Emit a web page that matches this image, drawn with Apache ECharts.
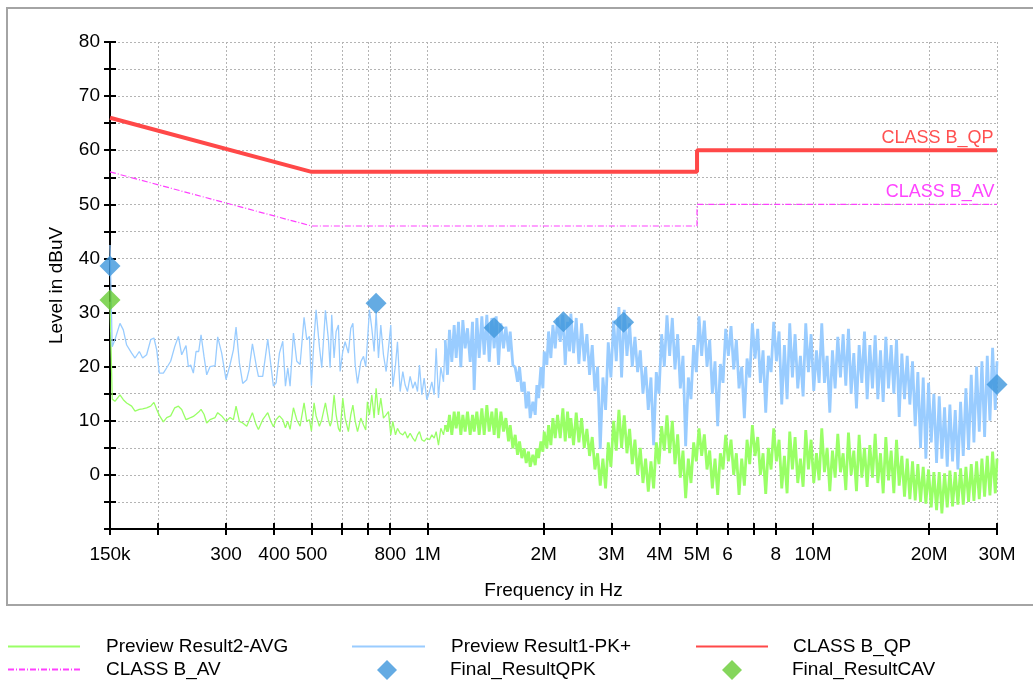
<!DOCTYPE html>
<html><head><meta charset="utf-8">
<script src="https://cdn.jsdelivr.net/npm/echarts@6/dist/echarts.min.js"></script>
<style>html,body{margin:0;padding:0;background:#fff}#c{width:1033px;height:684px}</style>
</head><body><div id="c"></div>
<script>
// ---------- DATA ----------
// 150 kHz - 560 kHz (frequency in kHz)
const freqLowKHz = [150, 152, 154.5, 159.2, 162.4, 165.7, 170.7, 174.2, 178.7, 182.3,
  186.7, 191.3, 195, 198.3, 201.4, 206.3, 210.5, 215.5, 220.8, 225.7,
  230.2, 236.2, 239.5, 242.9, 246.8, 250.8, 254.8, 258.4, 263, 267.3,
  272.6, 281, 285.4, 292.3, 300, 307.3, 313.5, 318.5, 324.9, 331.4,
  339.5, 344.2, 351.2, 358.9, 364, 373.5, 379.6, 384.9, 391.9, 398.1,
  404.5, 412.7, 421, 427.8, 433.8, 439.8, 448.7, 457.7, 466.9, 478.1,
  485.9, 493.7, 499.6, 507.6, 513.7, 524, 531.4, 543.2, 553, 558.6];
const pkLow = [42.5, 23.7, 25, 28, 26.8, 24, 22.5, 21.6, 22.8, 21.6,
  22.2, 25, 25.3, 23.1, 18.8, 18.8, 19.8, 21, 23.7, 25.6,
  22.2, 23.9, 20, 20.3, 18.8, 22.8, 22.8, 25.9, 21.9, 18.5,
  20, 20.2, 25.5, 22.5, 17.6, 20.4, 23.1, 27.3, 20.7, 16.9,
  17.6, 19.4, 24.2, 20.4, 18.2, 18.2, 21.9, 25.1, 20.4, 16.4,
  17, 22.5, 24.7, 16.4, 19.8, 16.4, 26.2, 21, 20.4, 29.1,
  25, 25.6, 16.5, 25.3, 30.5, 23.7, 19.8, 30.4, 25, 19.8];
const avgLow = [32, 14, 13.6, 14.8, 13.9, 13.3, 12.7, 11.8, 12.1, 12.2,
  12.4, 12.7, 13.4, 12.1, 11, 9.8, 10.6, 10.9, 12.4, 12.7,
  12.1, 10.2, 10.4, 10.6, 10.8, 11.2, 11.6, 12.1, 11.2, 9.6,
  10.2, 10.6, 11.5, 10.9, 9.9, 10.6, 10.2, 12.7, 9.9, 9.6,
  9, 10, 11.5, 9.3, 8.4, 10.2, 10.9, 11.5, 9.9, 8.9,
  10.2, 10.9, 10.2, 8.7, 9.9, 8.4, 12.4, 10.2, 9, 13.3,
  9.9, 10.2, 8.1, 13.3, 10.9, 9, 10.2, 13.3, 10.2, 9];

// 0.56 MHz - 2.34 MHz (frequency in MHz)
const freqMidMHz = [0.564, 0.572, 0.579, 0.587, 0.593, 0.6025, 0.611, 0.623, 0.632, 0.640,
  0.649, 0.658, 0.671, 0.682, 0.691, 0.698, 0.7066, 0.7165, 0.7266, 0.7353,
  0.7457, 0.7561, 0.7682, 0.7806, 0.7916, 0.8026, 0.8124, 0.8254, 0.8353, 0.8487,
  0.8624, 0.8745, 0.8868, 0.901, 0.9155, 0.9284, 0.9414, 0.9527, 0.9661, 0.9796,
  0.9954, 1.0113, 1.0256, 1.040, 1.0524, 1.0672, 1.0822, 1.0996, 1.1106, 1.1262,
  1.1397, 1.1557, 1.172, 1.1861, 1.2027, 1.2197, 1.2342, 1.2516, 1.2691, 1.2895,
  1.3077, 1.3207, 1.342, 1.3608, 1.3828, 1.4021, 1.4246, 1.4447, 1.4678, 1.4884,
  1.5063, 1.5276, 1.549, 1.5737, 1.596, 1.6216, 1.6378, 1.664, 1.6875, 1.7112,
  1.7318, 1.756, 1.7807, 1.8022, 1.8274, 1.8458, 1.8753, 1.9018, 1.9208, 1.940,
  1.9673, 1.991, 2.007, 2.039, 2.0596, 2.0884, 2.1136, 2.1432, 2.1732, 2.2082,
  2.2436, 2.2752, 2.3071, 2.335];
const pkMid = [29.6, 21.6, 26.5, 27.7, 19.1, 22.8, 24.6, 22.5, 27.1, 28,
  20.3, 16.9, 20.9, 21.9, 20, 24.6, 30.5, 27.1, 22.8, 30.2,
  21.6, 27.7, 22.2, 19.1, 23.4, 27.7, 16.3, 20.3, 24.6, 15.4,
  19.1, 16.6, 15.4, 18.2, 16, 17.2, 15.4, 20.3, 14.8, 17.9,
  13.9, 15.4, 17.2, 14.8, 23.4, 14.2, 19.9, 17.2, 24.9, 18.5,
  26.8, 20.9, 27.7, 21.6, 28.3, 19.9, 28.6, 23.4, 27.1, 20.9,
  28.3, 15.7, 29, 21.6, 29.3, 22.2, 29.6, 20.9, 29, 23.4,
  29.3, 20.3, 28, 23.4, 27.4, 22.8, 26.5, 20.3, 19.9, 17.2,
  19.9, 15.4, 17.2, 12.3, 15.4, 10.5, 13.5, 11.1, 16.6, 14.2,
  19.9, 16, 22.8, 20.3, 26.5, 21.6, 27.7, 23.4, 29, 24.6,
  29.6, 20.3, 28.3, 22.8];
const avgMid = [9.9, 14.8, 11.1, 8.6, 8, 14.2, 10.5, 8, 11.1, 12.9,
  9.9, 8, 10.5, 9.2, 8.3, 13.5, 11.1, 14.8, 10.5, 16,
  11.1, 14.2, 10.5, 11.1, 11.7, 7.4, 9.9, 7.4, 8.6, 7.7,
  7.4, 8, 6.8, 7.7, 6.8, 6.2, 7.4, 8, 6.5, 6.2,
  6.8, 6.5, 7.4, 6.8, 8, 5.5, 8.6, 7.4, 9.2, 8,
  11.1, 7.4, 11.7, 8.6, 11.7, 7.4, 11.1, 8, 11.7, 7.4,
  11.1, 8, 11.7, 7.4, 12.3, 7.4, 12.9, 8, 11.7, 7.4,
  12.3, 6.8, 11.7, 8, 10.5, 6.2, 9.2, 4.9, 7.4, 3.7,
  6.2, 3.1, 4.9, 2.2, 4.3, 1.5, 3.7, 1.8, 4.9, 3.1,
  6.2, 4.3, 8, 4.9, 9.2, 5.5, 10.5, 6.8, 11.1, 6.8,
  12.3, 6.2, 11.7, 6.8];

// 2.35 MHz - 30 MHz (frequency in MHz)
const freqHighMHz = [2.3534, 2.3913, 2.4297, 2.4688, 2.5084, 2.5488, 2.5897, 2.6314, 2.6737, 2.7166,
  2.7603, 2.8046, 2.8497, 2.8955, 2.9420, 2.9893, 3.0373, 3.0861, 3.1357, 3.1861,
  3.2373, 3.2894, 3.3422, 3.3959, 3.4505, 3.5060, 3.5623, 3.6196, 3.6777, 3.7368,
  3.7969, 3.8579, 3.9199, 3.9829, 4.0469, 4.1120, 4.1780, 4.2452, 4.3134, 4.3827,
  4.4532, 4.5247, 4.5975, 4.6713, 4.7464, 4.8227, 4.9002, 4.9790, 5.0590, 5.1403,
  5.2229, 5.3068, 5.3921, 5.4788, 5.5668, 5.6563, 5.7472, 5.8395, 5.9334, 6.0287,
  6.1256, 6.2240, 6.3241, 6.4257, 6.5290, 6.6339, 6.7405, 6.8488, 6.9589, 7.0707,
  7.1843, 7.2998, 7.4171, 7.5363, 7.6574, 7.7805, 7.9055, 8.0325, 8.1616, 8.2928,
  8.4261, 8.5615, 8.6991, 8.8389, 8.9810, 9.1253, 9.2720, 9.4210, 9.5724, 9.7262,
  9.8826, 10.041, 10.203, 10.367, 10.533, 10.703, 10.875, 11.050, 11.227, 11.408,
  11.591, 11.777, 11.966, 12.159, 12.354, 12.553, 12.754, 12.959, 13.168, 13.379,
  13.594, 13.813, 14.035, 14.260, 14.490, 14.722, 14.959, 15.200, 15.444, 15.692,
  15.944, 16.200, 16.461, 16.725, 16.994, 17.267, 17.545, 17.827, 18.113, 18.404,
  18.700, 19.001, 19.306, 19.616, 19.932, 20.252, 20.577, 20.908, 21.244, 21.586,
  21.932, 22.285, 22.643, 23.007, 23.377, 23.752, 24.134, 24.522, 24.916, 25.317,
  25.723, 26.137, 26.557, 26.984, 27.417, 27.858, 28.306, 28.761, 29.223, 29.693,
  30];
const pkHigh = [29.8, 22.5, 29, 20.5, 28, 21, 26, 18.5, 24, 15.5,
  20, 4.8, 18, 12, 24.5, 18, 28.5, 21, 31, 18,
  30.5, 22, 28, 20, 25.5, 19, 23, 15, 20, 12,
  18, 5.5, 19, 15, 26, 20, 29.5, 22, 29, 19.5,
  26, 16, 22, 5.3, 18, 14, 24, 19, 29.3, 22,
  28.5, 20, 25, 15, 21, 9, 20.5, 17, 27, 22,
  27.5, 19.5, 25, 16, 20, 10.5, 21.5, 18, 28, 21.5,
  27, 17, 23, 11.5, 22, 19, 28.3, 21, 26.5, 13,
  24, 14, 28, 18, 26, 16, 22, 14.5, 28, 19,
  26, 15.5, 23, 17, 28, 17, 22, 11.5, 23, 16,
  25.5, 18, 26, 16.5, 27, 15, 22.5, 12.3, 24, 17,
  26.5, 14, 24, 16, 25.8, 14, 23, 13.5, 25.5, 16,
  24, 15, 25, 10.7, 22.4, 14, 22, 13, 21, 9,
  19, 5, 18, 3, 17, 6, 15, 2.2, 14.5, 3,
  12.5, 1.5, 13, 2.5, 12, 1, 13.5, 3.5, 16, 4.6,
  18.5, 6, 20, 8, 21, 7, 22, 10, 23.5, 12,
  21];
const avgHigh = [10.5, 5.5, 11.5, 6, 10.5, 5, 8.5, 3.5, 7, 1,
  4, -2, 3, -2.5, 6, 1.5, 10, 4.5, 12, 5,
  11, 4, 8.5, 2, 6.5, 0, 5, -1.5, 3, -3.1,
  2.5, -2.5, 6, 2, 9, 4.5, 11, 4, 10, 2,
  7.5, -0.5, 4.5, -4.3, 3, -1.5, 6, 2.5, 8.6, 3.5,
  7.5, 1, 4.5, -2.5, 3, -3.7, 4, 1, 7.4, 2.5,
  6.5, 0, 4, -3.7, 3, -2, 6.5, 2, 9.2, 3.5,
  7, 0, 4, -3.5, 5, 1, 8.6, 2.5, 6.5, -2.5,
  3.5, -3.4, 8, 1, 7, -1.5, 3, -2.2, 8.3, 1,
  6.5, -1.5, 4, -1, 8.6, 0.5, 5, -3, 4.5, -0.5,
  7.6, 0.5, 4, -2.8, 7.8, 0, 4.5, -3, 7.4, -0.5,
  5, -2.2, 5.5, -0.5, 7.6, -1.5, 4, -3.4, 7, -1,
  4.5, -3.4, 6.5, -2, 3.5, -4, 3, -4.5, 2.5, -4.7,
  2, -5, 1.5, -5.3, 1, -6, 0.5, -6.5, 0.5, -7.1,
  0.3, -6, 0.8, -5.8, 0.5, -5.5, 1.2, -5.5, 1.5, -5,
  2, -4.8, 2.5, -4.5, 3, -4, 3.5, -3.8, 4.3, -3.4,
  3];

// Limit lines (MHz, dBuV)
const limitFreq = [0.15, 0.5, 5, 5, 30];
const qpLimit = [66, 56, 56, 60, 60];
const avLimit = [56, 46, 46, 50, 50];

// Final results (MHz, dBuV)
const qpkFreq = [0.15, 0.735, 1.488, 2.25, 3.225, 30];
const qpkLevel = [38.6, 31.7, 27.2, 28.3, 28.2, 16.7];
const cavFreq = [0.15];
const cavLevel = [32.3];

// Axis ticks (MHz)
const tickFreqs = [0.15, 0.2, 0.3, 0.4, 0.5, 0.6, 0.7, 0.8, 1, 2, 3, 4, 5, 6, 7, 8, 10, 20, 30];
const labelFreqs = [0.15, 0.3, 0.4, 0.5, 0.8, 1, 2, 3, 4, 5, 6, 8, 10, 20, 30];
const labelTexts = ['150k', '300', '400', '500', '800', '1M', '2M', '3M', '4M', '5M', '6', '8', '10M', '20M', '30M'];

// ---------- BUILD ----------
const L = f => Math.log10(f);
const SPLIT = 1.1; // MHz: trace is drawn as a dense band above this
const pkAll = [].concat(
  freqLowKHz.map((f, i) => [f / 1000, pkLow[i]]),
  freqMidMHz.map((f, i) => [f, pkMid[i]]),
  freqHighMHz.map((f, i) => [f, pkHigh[i]]));
const avgAll = [].concat(
  freqLowKHz.map((f, i) => [f / 1000, avgLow[i]]),
  freqMidMHz.map((f, i) => [f, avgMid[i]]),
  freqHighMHz.map((f, i) => [f, avgHigh[i]]));
function part(arr, lo) {
  const idx = arr.findIndex(p => p[0] > SPLIT);
  const sel = lo ? arr.slice(0, idx + 1) : arr.slice(idx);
  return sel.map(p => [L(p[0]), p[1]]);
}
const qpData = limitFreq.map((f, i) => [L(f), qpLimit[i]]);
const avData = limitFreq.map((f, i) => [L(f), avLimit[i]]);
const qpkData = qpkFreq.map((f, i) => [L(f), qpkLevel[i]]);
const cavData = cavFreq.map((f, i) => [L(f), cavLevel[i]]);

const FONT = '"Liberation Sans", Arial, sans-serif';
const FS = 19;
const xMin = L(0.15), xMax = L(30);
const gridLine = { show: true, lineStyle: { color: '#b4b4b4', width: 1, type: [2, 2] } };
const GREEN = '#99ff66', BLUE = '#99ccff';

const xBase = {
  type: 'value', min: xMin, max: xMax, gridIndex: 0, position: 'bottom',
  axisLine: { onZero: false, lineStyle: { color: '#000', width: 2 } },
  axisTick: { customValues: tickFreqs.map(L), length: 6, lineStyle: { color: '#000', width: 2 } },
};
const yBase = {
  type: 'value', min: -10, max: 80, interval: 5, position: 'left',
  axisLine: { onZero: false, lineStyle: { color: '#000', width: 2 } },
  axisTick: { length: 6, lineStyle: { color: '#000', width: 2 } },
};

function legendItem(name, left, top, iw, ih, pad, hideSymbol) {
  const o = {
    data: [name], left: left, top: top, itemWidth: iw, itemHeight: ih, padding: 0,
    selectedMode: false,
    textStyle: { fontFamily: FONT, fontSize: FS, color: '#000', padding: [0, 0, 0, pad] }
  };
  if (hideSymbol) o.itemStyle = { opacity: 0 };
  return o;
}

const chart = echarts.init(document.getElementById('c'), null, { renderer: 'canvas' });
chart.setOption({
  backgroundColor: '#fff',
  animation: false,
  textStyle: { fontFamily: FONT },
  graphic: [{
    type: 'rect', shape: { x: 7, y: 8, width: 1040, height: 597 }, silent: true, z: -10,
    style: { fill: 'none', stroke: '#a4a4a4', lineWidth: 2 }
  }],
  grid: { left: 110, right: 36, top: 42, bottom: 155 },
  xAxis: [
    Object.assign({}, xBase, {
      name: 'Frequency in Hz', nameLocation: 'middle', nameGap: 52,
      nameTextStyle: { fontFamily: FONT, fontSize: FS, color: '#000' },
      axisLabel: {
        customValues: labelFreqs.map(L), margin: 16, fontFamily: FONT, fontSize: FS, color: '#000',
        formatter: v => { for (let i = 0; i < labelFreqs.length; i++) { if (Math.abs(L(labelFreqs[i]) - v) < 1e-6) return labelTexts[i]; } return ''; }
      },
      splitLine: gridLine
    }),
    Object.assign({}, xBase, {
      axisTick: Object.assign({}, xBase.axisTick, { inside: true }),
      axisLabel: { show: false }, splitLine: { show: false }
    })
  ],
  yAxis: [
    Object.assign({}, yBase, {
      name: 'Level in dBuV', nameLocation: 'middle', nameGap: 44,
      nameTextStyle: { fontFamily: FONT, fontSize: FS, color: '#000' },
      axisLabel: {
        margin: 10, fontFamily: FONT, fontSize: FS, color: '#000',
        formatter: v => (v % 10 === 0 && v > -10) ? String(v) : ''
      },
      splitLine: gridLine
    }),
    Object.assign({}, yBase, {
      axisTick: Object.assign({}, yBase.axisTick, { inside: true }),
      axisLabel: { show: false }, splitLine: { show: false }
    })
  ],
  legend: [
    legendItem('Preview Result2-AVG', 7, 637, 72, 20, 21, true),
    legendItem('Preview Result1-PK+', 351, 637, 73, 20, 21, true),
    legendItem('CLASS B_QP', 695, 637, 72, 20, 20, true),
    legendItem('CLASS B_AV', 7, 660, 72, 20, 21, true),
    legendItem('Final_ResultQPK', 377, 660, 20, 20, 48, false),
    legendItem('Final_ResultCAV', 722, 660, 20, 20, 45, false)
  ],
  series: [
    {
      name: 'Preview Result2-AVG', type: 'line', data: part(avgAll, true), symbol: 'none',
      lineStyle: { color: GREEN, width: 1.3 }, itemStyle: { color: GREEN }, z: 2
    },
    {
      name: 'Preview Result2-AVG', type: 'line', data: part(avgAll, false), symbol: 'none',
      lineStyle: { color: GREEN, width: 2.8 }, itemStyle: { color: GREEN }, z: 2
    },
    {
      name: 'Preview Result1-PK+', type: 'line', data: part(pkAll, true), symbol: 'none',
      lineStyle: { color: BLUE, width: 1.3 }, itemStyle: { color: BLUE }, z: 3
    },
    {
      name: 'Preview Result1-PK+', type: 'line', data: part(pkAll, false), symbol: 'none',
      lineStyle: { color: BLUE, width: 2.8 }, itemStyle: { color: BLUE }, z: 3
    },
    {
      name: 'CLASS B_QP', type: 'line', data: qpData, symbol: 'none',
      lineStyle: { color: '#ff4848', width: 4 }, itemStyle: { color: '#ff4848' }, z: 5,
      markPoint: {
        symbol: 'circle', symbolSize: 1, itemStyle: { color: 'rgba(0,0,0,0)' }, silent: true,
        data: [{ coord: [xMax, 60], label: { show: true, formatter: 'CLASS B_QP', position: [0, 0], align: 'right', verticalAlign: 'bottom', offset: [-3, -3], color: '#ff5050', fontSize: 18, fontFamily: FONT } }]
      }
    },
    {
      name: 'CLASS B_AV', type: 'line', data: avData, symbol: 'none',
      lineStyle: { color: '#ff40ff', width: 1.2, type: [6, 2, 1, 2] }, itemStyle: { color: '#ff40ff' }, z: 4,
      markPoint: {
        symbol: 'circle', symbolSize: 1, itemStyle: { color: 'rgba(0,0,0,0)' }, silent: true,
        data: [{ coord: [xMax, 50], label: { show: true, formatter: 'CLASS B_AV', position: [0, 0], align: 'right', verticalAlign: 'bottom', offset: [-2, -3], color: '#ff44ff', fontSize: 18, fontFamily: FONT } }]
      }
    },
    {
      name: 'Final_ResultQPK', type: 'scatter', data: qpkData, symbol: 'diamond', symbolSize: [21, 21],
      itemStyle: { color: '#3d96dc' }, z: 10
    },
    {
      name: 'Final_ResultCAV', type: 'scatter', data: cavData, symbol: 'diamond', symbolSize: [21, 21],
      itemStyle: { color: '#66cc33' }, z: 10
    }
  ]
});
</script>
</body></html>
